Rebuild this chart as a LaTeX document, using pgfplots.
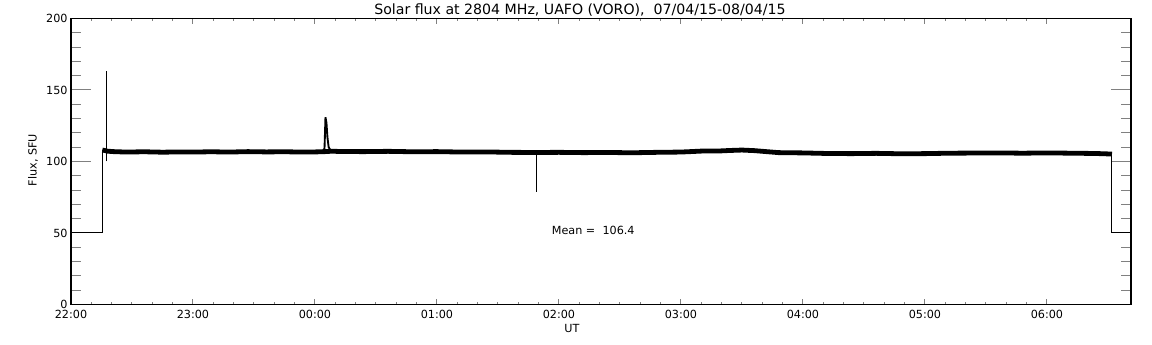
\documentclass[border=0pt]{standalone}
\usepackage{pgfplots}
\pgfplotsset{compat=1.18}
\usepackage{fontspec}
\setmainfont{DejaVu Sans}
\begin{document}
\begin{tikzpicture}
\useasboundingbox (0,0) rectangle (864pt,258.75pt);
\begin{axis}[
  at={(53.25pt,30.375pt)}, anchor=south west,
  scale only axis, width=795pt, height=214.5pt,
  xmin=0, xmax=8.689, ymin=0, ymax=200,
  xtick={0,1,2,3,4,5,6,7,8},
  xticklabels={22:00,23:00,00:00,01:00,02:00,03:00,04:00,05:00,06:00},
  minor x tick num=5,
  ytick={0,50,100,150,200},
  minor y tick num=4,
  tick align=inside,
  xtick style={/pgfplots/major tick length=3.9pt,/pgfplots/minor tick length=2.2pt, line width=0.75pt},
  ytick style={/pgfplots/major tick length=15pt,/pgfplots/minor tick length=7.5pt, line width=0.75pt},
  axis line style={line width=1pt},
  ticklabel style={font=\fontsize{8.4}{10}\selectfont},
  /pgf/number format/assume math mode=true,
  xticklabel style={yshift=-1pt},
  yticklabel style={xshift=1pt},
  clip=true,
]
% thin start and end segments
\addplot[black, line width=0.75pt] coordinates {(0,50) (0.257,50) (0.257,108)};
\addplot[black, line width=0.75pt] coordinates {(8.533,105.2) (8.533,50) (8.689,50)};
% main noisy band
\addplot[black, line width=3.6pt, line join=round] coordinates {
(0.257,108.0) (0.27,107.8) (0.30,107.2) (0.35,106.9) (0.45,106.6) (0.6,106.8)
(0.75,106.5) (0.9,106.7) (1.0,106.6) (1.15,106.8) (1.3,106.6) (1.45,106.9)
(1.6,106.7) (1.75,106.8) (1.9,106.6) (2.0,106.7) (2.06,106.8) (2.14,107.2)
(2.2,107.0) (2.4,106.9) (2.6,107.1) (2.8,106.8) (3.0,106.9) (3.2,106.6)
(3.4,106.7) (3.6,106.4) (3.82,106.3) (4.0,106.4) (4.2,106.2) (4.4,106.3)
(4.6,106.1) (4.8,106.4) (5.0,106.6) (5.1,107.0) (5.2,107.4) (5.3,107.3)
(5.4,107.7) (5.5,108.0) (5.6,107.6) (5.7,106.9) (5.8,106.2) (6.0,106.0)
(6.2,105.6) (6.4,105.5) (6.6,105.7) (6.8,105.4) (7.0,105.5) (7.2,105.8)
(7.4,105.9) (7.6,106.0) (7.8,105.8) (8.0,106.0) (8.2,105.8) (8.4,105.6)
(8.533,105.2)
};
% peak near 00:05
\addplot[black, line width=1.4pt, line join=miter] coordinates {
(2.06,107) (2.078,109) (2.086,131) (2.094,127) (2.102,117) (2.112,110) (2.13,107.5)
};
% thin spike and dip
\addplot[black, line width=0.75pt] coordinates {(0.287,100) (0.287,163)};
\addplot[black, line width=0.75pt] coordinates {(3.817,106) (3.817,78.5)};
\node[anchor=west, font=\fontsize{8.4}{10}\selectfont, inner sep=0pt] at (axis cs:3.94,52) {Mean =\ \ 106.4};
\end{axis}
\node[font=\fontsize{10.6}{12}\selectfont] at (435pt,251.5pt) {Solar flux at 2804 MHz, UAFO (VORO),\ \ 07/04/15-08/04/15};
\node[font=\fontsize{8.4}{10}\selectfont] at (429pt,12.5pt) {UT};
\node[font=\fontsize{8.4}{10}\selectfont, rotate=90] at (24.75pt,138.75pt) {Flux, SFU};
\end{tikzpicture}
\end{document}
